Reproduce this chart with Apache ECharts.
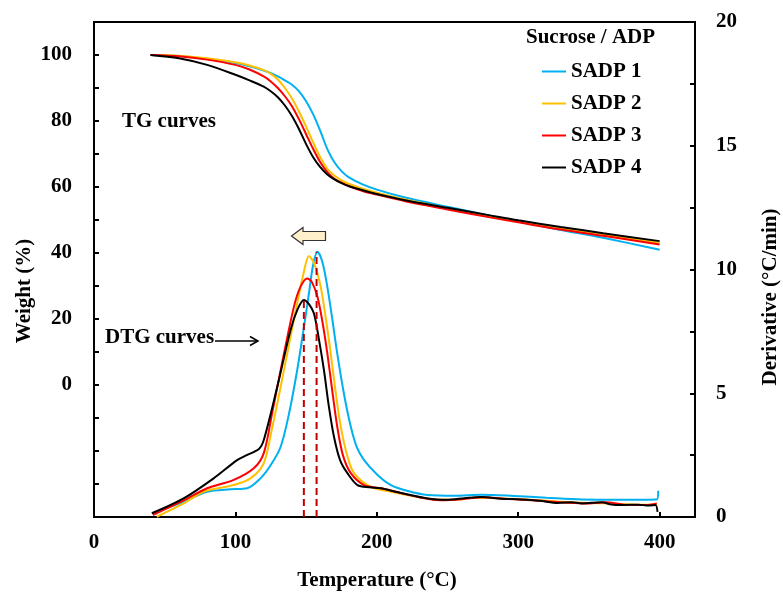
<!DOCTYPE html>
<html>
<head>
<meta charset="utf-8">
<script src="https://cdn.jsdelivr.net/npm/echarts@6/dist/echarts.min.js"></script>
<style>html,body{margin:0;padding:0;background:#fff}#c{width:783px;height:594px}</style>
</head>
<body>
<div id="c"></div>
<script>
// ---- Data ----
var seriesNames = ['SADP 1', 'SADP 2', 'SADP 3', 'SADP 4'];
var seriesColors = ['#00B0F0', '#FFC000', '#FF0000', '#000000'];

// TG curves (Weight %), common temperature grid
var tgTemp = [40, 60, 80, 100, 110, 120, 125, 130, 135, 140, 145, 150, 155, 160, 165, 170, 175, 180, 190, 200, 220, 250, 280, 300, 330, 360, 400];
var tg1 = [100, 99.7, 98.8, 97.6, 96.6, 95.3, 94.5, 93.5, 92.3, 91, 89, 86, 82, 77, 71.5, 67.5, 64.8, 63, 60.8, 59.2, 56.8, 54, 51.3, 49.5, 47, 44.6, 41];
var tg2 = [100, 99.8, 99, 97.8, 96.8, 95.4, 94.3, 92.6, 90, 86.8, 82.8, 78.3, 73.5, 69, 65.5, 63.5, 62, 61, 59.5, 58.3, 56.2, 53.6, 51.2, 49.6, 47.5, 45.6, 43.1];
var tg3 = [100, 99.6, 98.6, 97, 95.6, 93.5, 92, 90, 87.5, 84.5, 80.5, 76, 71.5, 67.5, 64.5, 62.5, 61.3, 60.3, 58.8, 57.7, 55.7, 53.2, 50.8, 49.3, 47.1, 45.2, 42.6];
var tg4 = [100, 99, 97, 94, 92.3, 90.4, 89, 87.2, 84.7, 81.5, 77.5, 73, 69, 66, 63.8, 62.3, 61.2, 60.3, 59, 57.9, 56, 53.7, 51.4, 49.9, 47.9, 46, 43.6];

// DTG curves (Derivative), each with its own temperature points
var dtgTemp1 = [41.6, 63.4, 80, 96.5, 108.3, 117.7, 125, 132, 138, 143.7, 148, 152, 155, 158, 161.5, 165, 168.5, 172, 177, 181.6, 186, 191, 200.5, 210, 222, 236, 255, 274, 297, 320, 345, 370, 397.9, 399];
var dtg1 = [0.15, 0.61, 1.02, 1.12, 1.16, 1.56, 2.1, 2.84, 4.2, 5.94, 7.5, 9.04, 10.2, 10.72, 10.3, 9.3, 8.0, 6.61, 4.9, 3.65, 2.8, 2.3, 1.7, 1.29, 1.05, 0.89, 0.86, 0.9, 0.85, 0.78, 0.71, 0.7, 0.71, 1.06];
var dtgTemp2 = [44.4, 63.4, 77.5, 98.8, 110.6, 120, 126, 132, 138, 143.7, 148, 152, 156, 160.3, 164, 167.4, 171, 174.5, 179, 183.9, 195.7, 210, 225, 240, 255, 270, 285, 300, 315, 330, 345, 360, 375, 390, 398];
var dtg2 = [0.01, 0.55, 1.02, 1.29, 1.56, 2.17, 3.6, 5.26, 7.0, 8.63, 9.8, 10.55, 10.2, 9.3, 8.0, 6.61, 5.0, 3.65, 2.5, 1.77, 1.22, 1.02, 0.85, 0.72, 0.7, 0.78, 0.76, 0.72, 0.68, 0.62, 0.58, 0.56, 0.52, 0.5, 0.5];
var dtgTemp3 = [41.6, 63.4, 80, 98.8, 113, 120, 126, 132, 141.4, 146, 150.8, 154, 158, 161.5, 165, 168.5, 172, 176, 181.6, 191, 203, 215, 230, 245, 260, 275, 290, 305, 320, 335, 350, 362, 375, 390, 398];
var dtg3 = [0.08, 0.67, 1.16, 1.5, 1.97, 2.57, 4.2, 5.94, 8.5, 9.3, 9.64, 9.5, 8.9, 7.9, 6.61, 5.1, 3.65, 2.5, 1.77, 1.29, 1.16, 1.0, 0.8, 0.68, 0.72, 0.8, 0.74, 0.7, 0.64, 0.58, 0.55, 0.6, 0.5, 0.48, 0.55];
var dtgTemp4 = [40.9, 63.4, 84.6, 101.2, 108, 116.6, 120, 129.6, 139, 144, 148.4, 152, 155.5, 159, 162.6, 166, 169.7, 174, 179.2, 186.3, 195, 202.8, 215, 236, 250, 262, 274, 288, 302, 315, 328, 338, 345, 359, 366, 373, 385, 392, 397, 398.5];
var dtg4 = [0.15, 0.75, 1.56, 2.3, 2.5, 2.75, 3.1, 5.26, 7.56, 8.4, 8.77, 8.6, 8.23, 7.2, 5.94, 4.5, 3.24, 2.3, 1.77, 1.29, 1.2, 1.16, 1.0, 0.75, 0.7, 0.76, 0.81, 0.74, 0.71, 0.66, 0.57, 0.6, 0.55, 0.6, 0.5, 0.48, 0.5, 0.46, 0.48, 0.21];

// Peak markers (dashed lines)
var peakTemps = [148.4, 157.4];
var peakValues = [8.77, 10.72];

// Axis tick labels
var xTickLabels = [0, 100, 200, 300, 400];
var weightTickLabels = [0, 20, 40, 60, 80, 100];
var derivTickLabels = [0, 5, 10, 15, 20];

// ---- Build ----
function zip(xs, ys) { return xs.map(function (x, i) { return [x, ys[i]]; }); }
var FONT = 'Liberation Serif';
var tgData = [tg1, tg2, tg3, tg4];
var dtgTemps = [dtgTemp1, dtgTemp2, dtgTemp3, dtgTemp4];
var dtgData = [dtg1, dtg2, dtg3, dtg4];

var series = [];
for (var i = 0; i < 4; i++) {
  series.push({
    name: seriesNames[i], type: 'line', xAxisIndex: 0, yAxisIndex: 0,
    data: zip(tgTemp, tgData[i]), smooth: 0.3, symbol: 'none', color: seriesColors[i],
    lineStyle: { width: 2, color: seriesColors[i] }, z: 3 + i
  });
}
for (var j = 0; j < 4; j++) {
  series.push({
    name: seriesNames[j], type: 'line', xAxisIndex: 0, yAxisIndex: 1,
    data: zip(dtgTemps[j], dtgData[j]), smooth: 0.3, symbol: 'none', color: seriesColors[j],
    lineStyle: { width: 2, color: seriesColors[j] }, z: 3 + j
  });
}
for (var k = 0; k < peakTemps.length; k++) {
  series.push({
    name: 'peak' + k, type: 'line', xAxisIndex: 0, yAxisIndex: 1,
    data: [[peakTemps[k], 0], [peakTemps[k], peakValues[k]]], symbol: 'none',
    lineStyle: { width: 2, color: '#C00000', type: [7, 4] }, z: 10, silent: true
  });
}

var FS = 21;
var labelStyle = { fontFamily: FONT, fontWeight: 'bold', fontSize: FS, color: '#000' };
var F = 'bold ' + FS + 'px "Liberation Serif"';
var chart = echarts.init(document.getElementById('c'), null, { renderer: 'canvas' });
chart.setOption({
  animation: false,
  backgroundColor: '#fff',
  grid: { left: 94, right: 88, top: 22, bottom: 77, show: true, borderColor: '#000', borderWidth: 2 },
  legend: {
    data: seriesNames, orient: 'vertical', left: 537, top: 56,
    icon: 'path://M0 0H24V2H0Z', itemWidth: 24, itemHeight: 2, itemGap: 11,
    textStyle: { fontFamily: FONT, fontWeight: 'bold', fontSize: FS, color: '#000', lineHeight: 21 }
  },
  xAxis: {
    type: 'value', min: 0, max: 425, interval: 100,
    axisLine: { onZero: false, lineStyle: { color: '#000', width: 2 } },
    axisTick: { inside: true, length: 5, lineStyle: { color: '#000', width: 2 } },
    splitLine: { show: false },
    axisLabel: Object.assign({ margin: 15, formatter: function (v) { return xTickLabels.indexOf(v) >= 0 ? String(v) : ''; } }, labelStyle)
  },
  yAxis: [{
    type: 'value', min: -40, max: 110, interval: 10,
    axisLine: { show: true, onZero: false, lineStyle: { color: '#000', width: 2 } },
    axisTick: { show: true, inside: true, length: 5, lineStyle: { color: '#000', width: 2 } },
    splitLine: { show: false },
    axisLabel: Object.assign({ margin: 22, formatter: function (v) { return weightTickLabels.indexOf(v) >= 0 ? String(v) : ''; } }, labelStyle)
  }, {
    type: 'value', min: 0, max: 20, interval: 2.5, position: 'right',
    axisLine: { show: true, onZero: false, lineStyle: { color: '#000', width: 2 } },
    axisTick: { show: true, inside: true, length: 5, lineStyle: { color: '#000', width: 2 } },
    splitLine: { show: false },
    axisLabel: Object.assign({ margin: 21, formatter: function (v) { return derivTickLabels.indexOf(v) >= 0 ? String(v) : ''; } }, labelStyle)
  }],
  series: series,
  graphic: [
    { type: 'text', left: 526, top: 27, style: { text: 'Sucrose / ADP', font: F, fill: '#000' } },
    { type: 'text', x: 122, y: 122, style: { text: 'TG curves', font: F, fill: '#000', verticalAlign: 'middle' } },
    { type: 'text', x: 105, y: 338, style: { text: 'DTG curves', font: F, fill: '#000', verticalAlign: 'middle' } },
    { type: 'polyline', shape: { points: [[215, 341], [257, 341]] }, style: { stroke: '#000', lineWidth: 1.5 } },
    { type: 'polyline', shape: { points: [[250, 336.5], [258, 341], [250, 345.5]] }, style: { stroke: '#000', lineWidth: 1.5, fill: null } },
    { type: 'polygon', shape: { points: [[291.5, 236], [303, 227.5], [303, 231.5], [325.5, 231.5], [325.5, 240.5], [303, 240.5], [303, 244.5]] }, style: { fill: '#FFF0CC', stroke: '#333', lineWidth: 1.2 }, z: 20 },
    { type: 'text', x: 377, y: 581, style: { text: 'Temperature (°C)', font: F, fill: '#000', align: 'center', verticalAlign: 'middle' } },
    { type: 'text', x: 25, y: 291, rotation: Math.PI / 2, style: { text: 'Weight (%)', font: F, fill: '#000', align: 'center', verticalAlign: 'middle' } },
    { type: 'text', x: 771, y: 297, rotation: Math.PI / 2, style: { text: 'Derivative (°C/min)', font: F, fill: '#000', align: 'center', verticalAlign: 'middle' } }
  ]
});
</script>
</body>
</html>
